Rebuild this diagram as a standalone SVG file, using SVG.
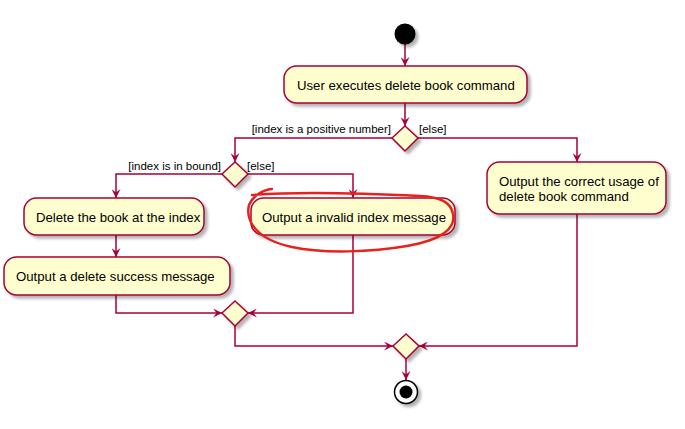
<svg xmlns="http://www.w3.org/2000/svg" width="685" height="429" viewBox="0 0 685 429">
  <style>
    .act { fill: #FEFECE; stroke: #A80036; stroke-width: 1.5; filter: url(#shadow); }
    .txt { font-family: "Liberation Sans", Arial, sans-serif; font-size: 13.2px; fill: #000; }
    .lbl { font-family: "Liberation Sans", Arial, sans-serif; font-size: 11.5px; fill: #000; }
    .flow { fill: none; stroke: #A80036; stroke-width: 1.5; marker-end: url(#arrow); }
    .mark { fill: none; stroke: #E8211C; stroke-width: 2.5; stroke-linecap: round; stroke-linejoin: round; }
  </style>
  <defs>
    <filter id="shadow" x="-10%" y="-20%" width="130%" height="160%">
      <feGaussianBlur in="SourceAlpha" stdDeviation="1.5"/>
      <feOffset dx="3" dy="3" result="off"/>
      <feComponentTransfer><feFuncA type="linear" slope="0.3"/></feComponentTransfer>
      <feMerge><feMergeNode/><feMergeNode in="SourceGraphic"/></feMerge>
    </filter>
    <marker id="arrow" viewBox="0 0 10 10" refX="10" refY="5" markerWidth="10" markerHeight="9" markerUnits="userSpaceOnUse" orient="auto">
      <path d="M0,0 L10,5 L0,10 L4,5 Z" fill="#A80036"/>
    </marker>
  </defs>

  <rect width="685" height="429" fill="#fff"/>

  <!-- connectors -->
  <g id="connectors">
    <path class="flow" d="M405,44 V66"/>
    <path class="flow" d="M405,103 V126"/>
    <path class="flow" d="M392,138 H235 V162"/>
    <path class="flow" d="M418,138 H577 V162"/>
    <path class="flow" d="M222,174 H116 V198"/>
    <path class="flow" d="M248,174 H353 V198"/>
    <path class="flow" d="M116,235 V257"/>
    <path class="flow" d="M116,295 V313 H222"/>
    <path class="flow" d="M353,235 V313 H248"/>
    <path class="flow" d="M235,326 V346 H393"/>
    <path class="flow" d="M577,214 V346 H419"/>
    <path class="flow" d="M406,359 V380"/>
    <text class="lbl" x="391" y="133" text-anchor="end">[index is a positive number]</text>
    <text class="lbl" x="419" y="133">[else]</text>
    <text class="lbl" x="221" y="170" text-anchor="end">[index is in bound]</text>
    <text class="lbl" x="247" y="170">[else]</text>
  </g>

  <!-- nodes -->
  <g id="start">
    <circle cx="405" cy="34" r="10.5" fill="#000" filter="url(#shadow)"/>
  </g>
  <g id="user-executes">
    <rect class="act" x="284" y="66" width="243" height="37" rx="12.5"/>
    <text class="txt" x="297" y="90">User executes delete book command</text>
  </g>
  <g id="check-positive">
    <polygon class="act" points="405,126 418,138 405,151 392,138"/>
  </g>
  <g id="check-bound">
    <polygon class="act" points="235,162 248,174 235,187 222,174"/>
  </g>
  <g id="delete-book">
    <rect class="act" x="24" y="198" width="180" height="37" rx="12.5"/>
    <text class="txt" x="36" y="222">Delete the book at the index</text>
  </g>
  <g id="success-message">
    <rect class="act" x="4" y="257" width="226" height="38" rx="12.5"/>
    <text class="txt" x="16" y="281">Output a delete success message</text>
  </g>
  <g id="invalid-message">
    <rect class="act" x="251" y="198" width="204" height="37" rx="12.5"/>
    <text class="txt" x="262" y="222">Output a invalid index message</text>
  </g>
  <g id="correct-usage">
    <rect class="act" x="487" y="162" width="179" height="52" rx="12.5"/>
    <text class="txt" x="499" y="186">Output the correct usage of</text>
    <text class="txt" x="499" y="201">delete book command</text>
  </g>
  <g id="merge-inner">
    <polygon class="act" points="235,301 248,313 235,326 222,313"/>
  </g>
  <g id="merge-outer">
    <polygon class="act" points="406,334 419,346 406,359 393,346"/>
  </g>
  <g id="end">
    <circle cx="406" cy="392" r="11.5" fill="#fff" stroke="#000" stroke-width="1.5" filter="url(#shadow)"/>
    <circle cx="406" cy="392" r="6.5" fill="#000"/>
  </g>

  <!-- hand-drawn highlight -->
  <g id="highlight">
    <path class="mark" d="M272,189 C262,190 253,196 249,205 C245,222 258,240 292,247 C324,254 372,252 407,246 C442,240 456,228 453,214 C451,202 440,197 420,196 C360,193 290,192 252,195"/>
  </g>
</svg>
